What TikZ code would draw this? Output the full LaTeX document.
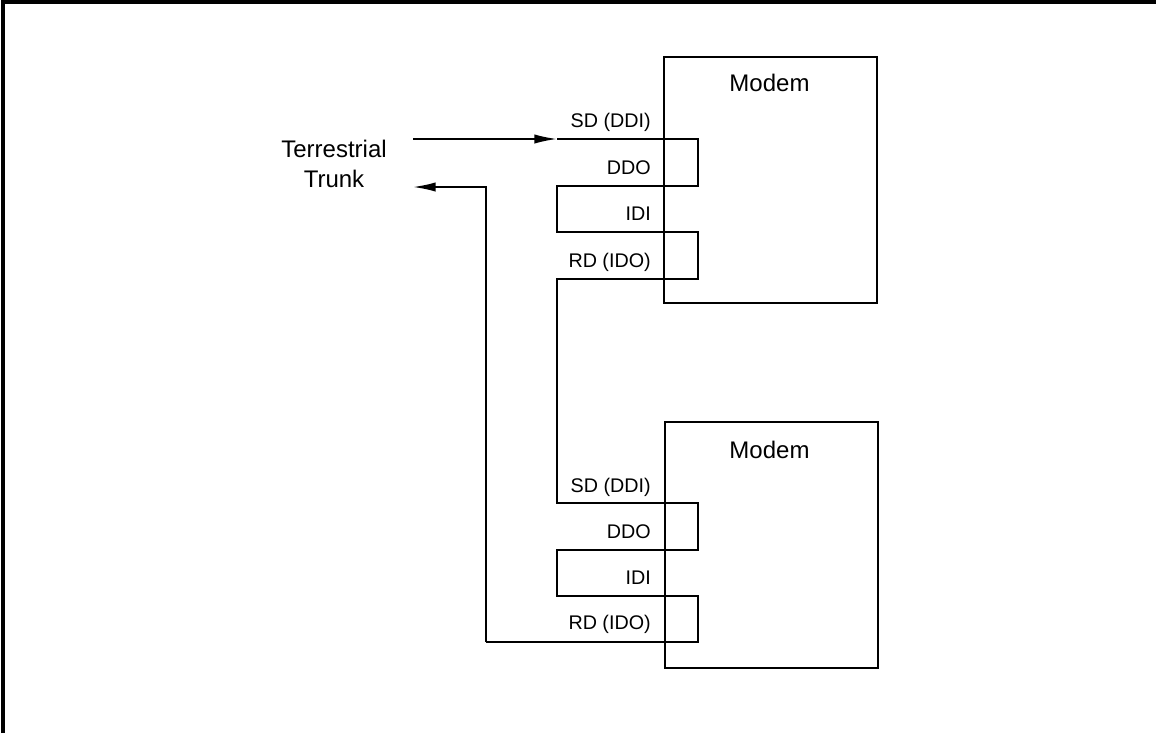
\documentclass[tikz,border=0pt]{standalone}
\usepackage{fontspec}
\setmainfont{Liberation Sans}
\usetikzlibrary{arrows.meta}

\tikzset{
  wire/.style={line width=1.35pt},
  flow/.style={wire,-{Latex[length=17pt,width=7pt]}},
  modembox/.style={draw,line width=1.7pt,minimum width=159.75pt,minimum height=184.5pt,anchor=north west,inner sep=0pt},
  port/.style={anchor=base east,inner sep=0.75pt,font=\fontsize{14.8}{17}\selectfont},
  title/.style={inner sep=0.75pt,font=\fontsize{18}{22.5}\selectfont,align=center}
}

\begin{document}
\begin{tikzpicture}[x=0.75pt,y=0.75pt,yscale=-1,xscale=1]
        \useasboundingbox (0,0) rectangle (1156,733);

        % Frame
        \draw [line width=3pt] (3,733) -- (3,1.5) -- (1156,1.5);

        %Shape: Rectangle
        \node (modemA) [modembox] at (663,56) {};
        %Shape: Rectangle
        \node (modemB) [modembox] at (664,421) {};

        % Text Node
        \draw (769.5,83) node (titleA) [title] {Modem};
        % Text Node
        \draw (769.5,450) node (titleB) [title] {Modem};
        % Text Node
        \draw (334,163.5) node (trunk) [title] {Terrestrial\\Trunk};

        % Port points
        \coordinate (sdA) at (557,139);
        \coordinate (ddoA) at (557,186);
        \coordinate (idiA) at (557,232);
        \coordinate (rdA) at (557,279);
        \coordinate (sdB) at (557,503);
        \coordinate (ddoB) at (557,550);
        \coordinate (idiB) at (557,596);
        \coordinate (rdB) at (557,642);
        \coordinate (trunkIn) at (413,139);
        \coordinate (trunkOut) at (413,187);
        \coordinate (back) at (486,642);

        % Text Node
        \draw (652,127) node (lsdA) [port] {SD (DDI)};
        % Text Node
        \draw (652,174) node (lddoA) [port] {DDO};
        % Text Node
        \draw (652,220) node (lidiA) [port] {IDI};
        % Text Node
        \draw (652,267) node (lrdA) [port] {RD (IDO)};
        % Text Node
        \draw (652,492) node (lsdB) [port] {SD (DDI)};
        % Text Node
        \draw (652,538) node (lddoB) [port] {DDO};
        % Text Node
        \draw (652,584) node (lidiB) [port] {IDI};
        % Text Node
        \draw (652,629) node (lrdB) [port] {RD (IDO)};

        %Straight Lines
        \draw [flow] (trunkIn) -- (sdA);
        %Straight Lines
        \draw [wire] (sdA) -- ++(141,0) |- (ddoA) -- (idiA) -- ++(141,0) |- (rdA) -- (sdB)
              -- ++(141,0) |- (ddoB) -- (idiB) -- ++(141,0) |- (rdB) -- (back);
        %Straight Lines
        \draw [flow] (back) |- (trunkOut);

\end{tikzpicture}
\end{document}
